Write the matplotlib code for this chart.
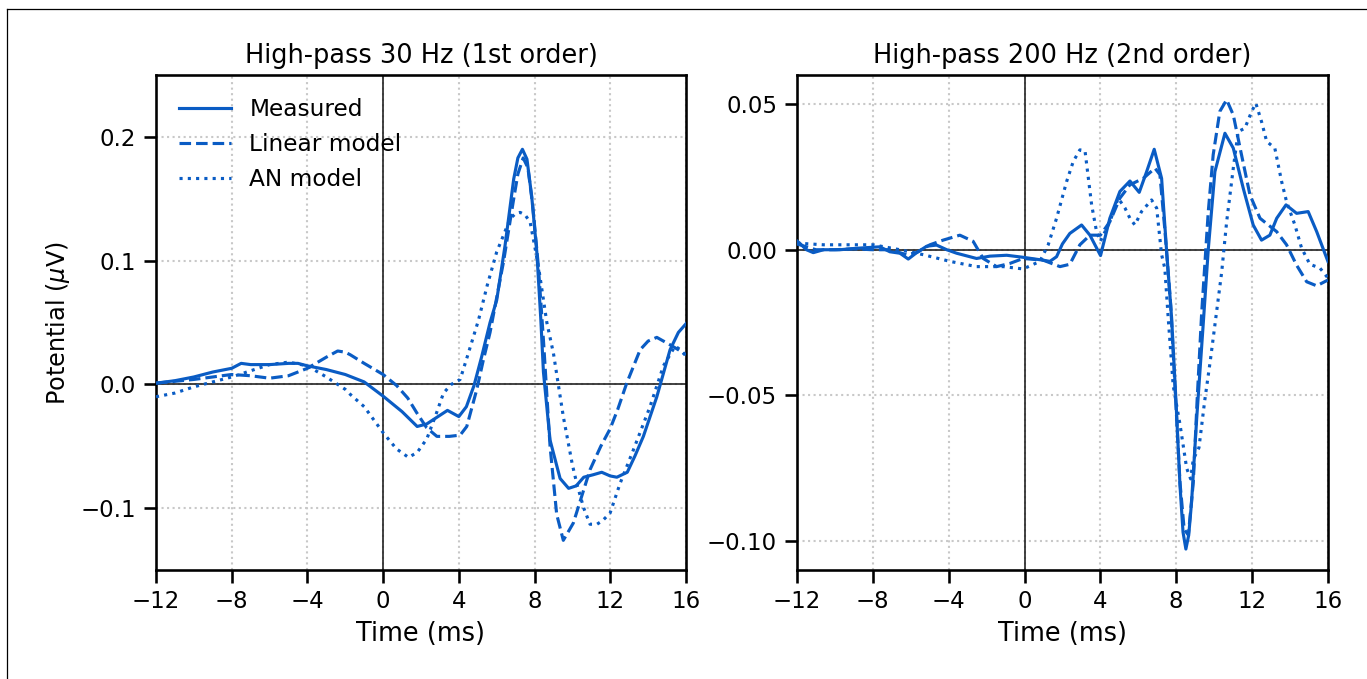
import numpy as np
import matplotlib
matplotlib.use("Agg")
import matplotlib.pyplot as plt
from matplotlib.lines import Line2D
from matplotlib.ticker import FuncFormatter

# high-pass 30 Hz (1st order)
t30_meas = [-12, -11, -10, -9, -8, -7.5, -7, -6, -5, -4.5, -4, -3, -2, -1, 0, 1, 1.8, 2.3, 3.0, 3.4,
            4.0, 4.4, 4.8, 5.2, 5.65, 6.0, 6.44, 6.9, 7.12, 7.36, 7.6, 7.85, 8.12, 8.33, 8.47, 8.82,
            9.35, 9.8, 10.2, 10.6, 11.1, 11.55, 12.0, 12.35, 12.9, 13.3, 13.75, 14.46, 15.16, 15.6, 16.0]
v30_meas = [0.001, 0.003, 0.006, 0.010, 0.013, 0.017, 0.016, 0.016, 0.017, 0.017, 0.015, 0.012, 0.008,
            0.002, -0.0095, -0.022, -0.034, -0.032, -0.025, -0.021, -0.026, -0.018, -0.001, 0.022,
            0.050, 0.068, 0.112, 0.166, 0.183, 0.190, 0.182, 0.152, 0.107, 0.053, 0.010, -0.045,
            -0.076, -0.084, -0.082, -0.075, -0.073, -0.071, -0.074, -0.075, -0.071, -0.058, -0.042,
            -0.010, 0.028, 0.042, 0.049]

t30_lin = [-12, -10, -8, -7, -6, -5, -4, -3, -2.4, -2, -1.74, -1, 0, 0.72, 1.3, 1.78, 2.3, 2.84, 3.5,
           4.07, 4.42, 4.95, 5.3, 5.65, 6.36, 6.9, 7.12, 7.4, 7.65, 7.9, 8.2, 8.47, 8.82, 9.17, 9.52,
           10.05, 10.5, 10.93, 11.5, 11.99, 12.4, 12.87, 13.58, 14.0, 14.46, 15.16, 15.6, 16.0]
v30_lin = [0.001, 0.004, 0.008, 0.007, 0.005, 0.007, 0.013, 0.022, 0.027, 0.026, 0.024, 0.017, 0.008,
           -0.001, -0.011, -0.023, -0.035, -0.042, -0.042, -0.041, -0.034, -0.004, 0.020, 0.042,
           0.099, 0.150, 0.170, 0.183, 0.175, 0.145, 0.096, 0.036, -0.050, -0.105, -0.126, -0.112,
           -0.090, -0.069, -0.050, -0.036, -0.020, 0.001, 0.028, 0.035, 0.038, 0.032, 0.028, 0.024]

t30_an = [-12, -11, -10, -9, -8, -7, -6, -5, -4, -3, -2, -1.74, -1, 0, 0.7, 1.34, 1.8, 2.31, 2.8, 3.19,
          3.6, 4.07, 4.5, 5.04, 5.5, 6.0, 6.4, 6.71, 7.0, 7.24, 7.5, 7.77, 8.2, 8.65, 9.0, 9.52, 10.0,
          10.23, 10.6, 10.93, 11.3, 11.6, 11.99, 12.52, 13.22, 14.1, 14.81, 15.43, 15.7, 16.0]
v30_an = [-0.010, -0.007, -0.002, 0.002, 0.006, 0.011, 0.016, 0.018, 0.015, 0.006, -0.004, -0.008,
          -0.018, -0.039, -0.052, -0.059, -0.055, -0.044, -0.024, -0.007, 0.000, 0.004, 0.025, 0.052,
          0.080, 0.107, 0.122, 0.134, 0.138, 0.139, 0.137, 0.131, 0.096, 0.050, 0.025, -0.026,
          -0.065, -0.080, -0.100, -0.113, -0.113, -0.110, -0.104, -0.080, -0.053, -0.018, 0.015,
          0.031, 0.028, 0.023]

# high-pass 200 Hz (2nd order)
t200_meas = [-12, -11.85, -11.5, -11.14, -10.6, -9.74, -8.86, -7.63, -7.1, -6.57, -6.13, -5.69, -5.16,
             -4.64, -4.1, -3.58, -2.53, -1.82, -0.94, -0.07, 0.99, 1.34, 1.69, 2.0, 2.39, 3.01, 3.45,
             4.01, 4.5, 5.03, 5.56, 6.05, 6.44, 6.84, 7.23, 7.5, 7.76, 7.99, 8.2, 8.36, 8.51, 8.66,
             8.81, 9.08, 9.43, 9.69, 10.04, 10.57, 11.01, 11.54, 12.06, 12.5, 12.94, 13.3, 13.79,
             14.35, 14.96, 15.41, 16.0]
v200_meas = [0.003, 0.0022, 0.0, -0.001, 0.0, 0.0, 0.0005, 0.001, -0.0007, -0.0012, -0.0032, -0.001,
             0.0012, 0.0016, 0.0, -0.0012, -0.003, -0.0022, -0.0019, -0.0026, -0.0036, -0.004, -0.0024,
             0.002, 0.0056, 0.0085, 0.005, -0.002, 0.0108, 0.020, 0.0236, 0.0197, 0.0268, 0.0345,
             0.0245, -0.001, -0.0236, -0.0523, -0.081, -0.097, -0.1028, -0.098, -0.0867, -0.058,
             -0.025, 0.0, 0.0268, 0.040, 0.0349, 0.021, 0.0085, 0.0033, 0.005, 0.0108, 0.0154, 0.0125,
             0.0131, 0.0062, -0.004]

t200_lin = [-12, -11.85, -11, -10, -9, -8, -7.1, -6.22, -5.69, -4.99, -4.29, -3.41, -2.71, -2.18, -1.47,
            -0.77, -0.07, 0.99, 1.87, 2.39, 2.92, 3.45, 4.0, 4.5, 5.03, 5.56, 6.26, 6.88, 7.14, 7.41,
            7.71, 8.0, 8.2, 8.42, 8.64, 8.9, 9.1, 9.34, 9.69, 9.95, 10.3, 10.66, 11.01, 11.37, 11.89,
            12.42, 13.3, 13.82, 14.35, 14.88, 15.41, 16.0]
v200_lin = [0.002, 0.0017, 0.0, 0.0, 0.0003, 0.0, 0.0, -0.0017, -0.001, 0.0017, 0.0033, 0.005, 0.0029,
            -0.003, -0.0058, -0.0047, -0.003, -0.0036, -0.0058, -0.005, 0.0017, 0.005, 0.005, 0.0096,
            0.0177, 0.0223, 0.0245, 0.028, 0.0258, 0.0062, -0.019, -0.055, -0.080, -0.096, -0.098,
            -0.080, -0.052, -0.022, 0.013, 0.0326, 0.0475, 0.0515, 0.0463, 0.0349, 0.0188, 0.0108,
            0.0062, 0.0017, -0.0053, -0.011, -0.0124, -0.0104]

t200_an = [-12, -11.85, -10.6, -9, -7.98, -6.57, -5.34, -3.93, -2.53, -1.12, -0.07, 0.81, 1.25, 1.69,
           2.22, 2.57, 2.92, 3.19, 3.54, 3.8, 4.0, 4.5, 4.94, 5.3, 5.56, 5.82, 6.17, 6.7, 6.97, 7.23,
           7.4, 7.58, 7.84, 8.2, 8.55, 8.76, 8.9, 9.2, 9.5, 9.8, 10.13, 10.4, 10.66, 11.01, 11.27,
           11.62, 11.98, 12.2, 12.5, 12.77, 13.2, 13.56, 13.82, 14.26, 14.61, 15.05, 15.58, 16.0]
v200_an = [0.002, 0.0022, 0.0017, 0.0017, 0.0017, 0.0, -0.0017, -0.004, -0.0058, -0.0058, -0.0066,
           -0.004, 0.0017, 0.0108, 0.0234, 0.0303, 0.0343, 0.034, 0.0154, 0.0062, 0.0029, 0.0096,
           0.0177, 0.0143, 0.0108, 0.0085, 0.0131, 0.0171, 0.0143, -0.0017, -0.0064, -0.0236, -0.0466,
           -0.060, -0.075, -0.0787, -0.072, -0.068, -0.052, -0.038, -0.0213, -0.0076, 0.0096, 0.028,
           0.0406, 0.0417, 0.0475, 0.0503, 0.044, 0.0372, 0.0349, 0.0234, 0.0165, 0.0085, 0.0006,
           -0.005, -0.0063, -0.0097]

titles = ["High-pass 30 Hz (1st order)", "High-pass 200 Hz (2nd order)"]
labels = ["Measured", "Linear model", "AN model"]
styles = ["-", "--", ":"]
colour = "#0a5cc4"

plt.rcParams["font.size"] = 11

fig = plt.figure(figsize=(1367 / 150, 679 / 150), dpi=150)
ax1 = fig.add_axes([0.1141, 0.1605, 0.3877, 0.729])
ax2 = fig.add_axes([0.5830, 0.1605, 0.3884, 0.729])

panels = [
    (ax1, [(t30_meas, v30_meas), (t30_lin, v30_lin), (t30_an, v30_an)], (-0.15, 0.25), [-0.1, 0.0, 0.1, 0.2]),
    (ax2, [(t200_meas, v200_meas), (t200_lin, v200_lin), (t200_an, v200_an)], (-0.11, 0.06), [-0.10, -0.05, 0.0, 0.05]),
]

for (ax, series, ylim, yticks), title in zip(panels, titles):
    ax.grid(True, linestyle=":", color="#c8c8c8", linewidth=1.0, zorder=1)
    ax.axhline(0, color="#222222", linewidth=0.8, zorder=2)
    ax.axvline(0, color="#222222", linewidth=0.8, zorder=2)
    for (t, v), ls, lab in zip(series, styles, labels):
        ax.plot(t, v, ls, color=colour, linewidth=1.5, label=lab, zorder=3)
    ax.set_xlim(-12, 16)
    ax.set_ylim(*ylim)
    ax.set_xticks(np.arange(-12, 17, 4))
    ax.set_yticks(yticks)
    ax.set_xlabel("Time (ms)", fontsize=12.3)
    ax.set_title(title, fontsize=12.3)
    ax.tick_params(length=6, width=1.25)
    for sp in ax.spines.values():
        sp.set_linewidth(1.25)

ax2.yaxis.set_major_formatter(FuncFormatter(lambda y, _: ("%.2f" % y).replace("-", "\u2212")))
ax1.set_ylabel(r"Potential ($\mu$V)", fontsize=11.5)
ax1.legend(loc="upper left", frameon=False, handlelength=2.2, borderaxespad=0.6, fontsize=11.2)

# thin frame along the top and left edge
fig.add_artist(Line2D([0.0051, 1.0], [0.9867, 0.9867], transform=fig.transFigure, color="k", linewidth=0.6))
fig.add_artist(Line2D([0.0051, 0.0051], [0.0, 0.9867], transform=fig.transFigure, color="k", linewidth=0.6))

fig.savefig("out.png", dpi=150)
